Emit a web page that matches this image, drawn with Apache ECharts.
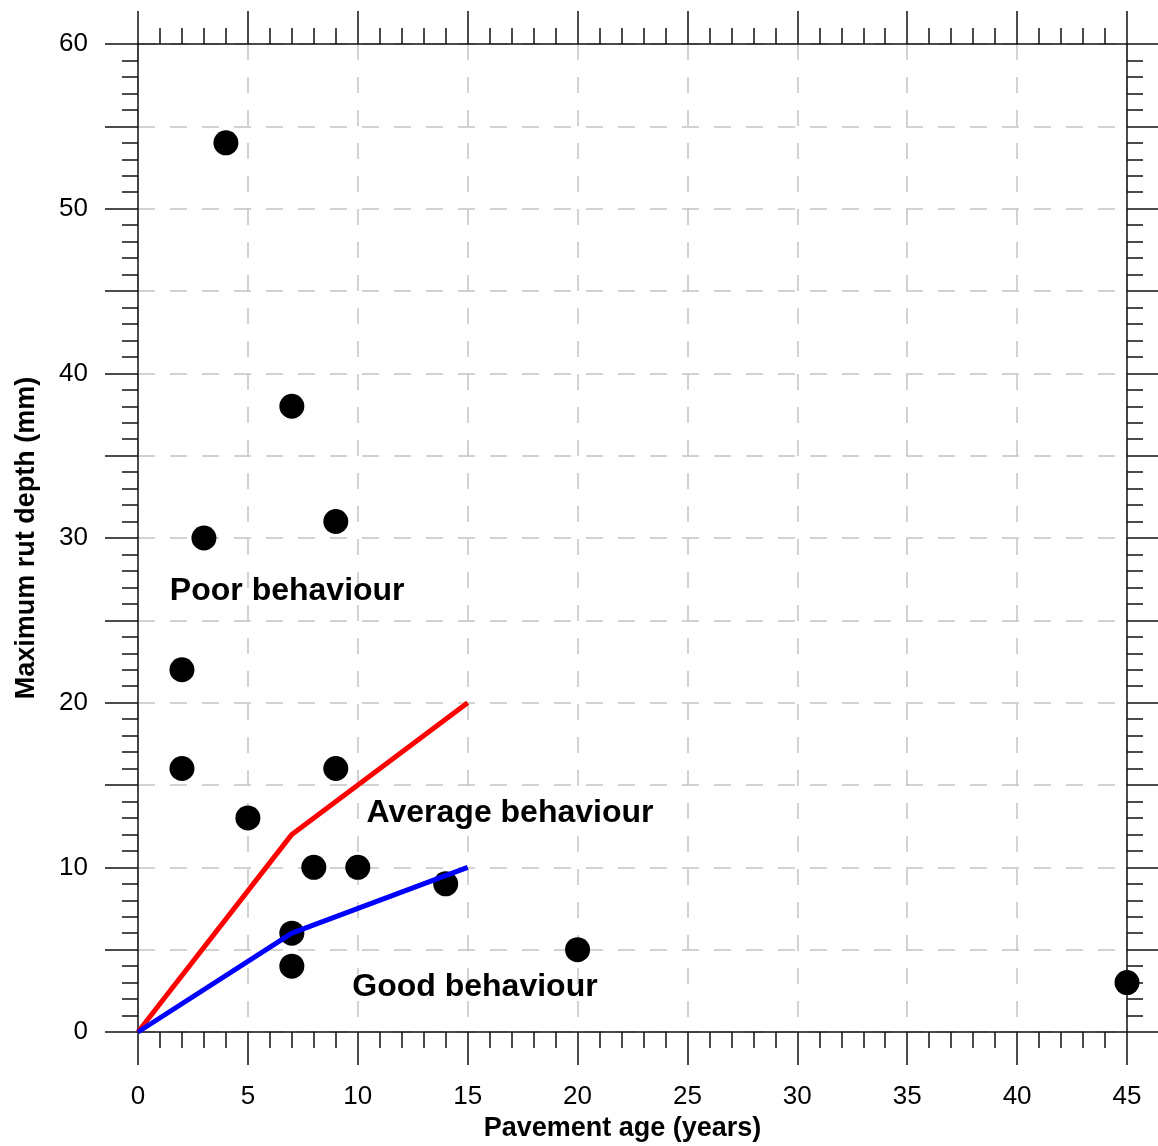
<!DOCTYPE html>
<html>
<head>
<meta charset="utf-8">
<script src="https://cdn.jsdelivr.net/npm/echarts@6/dist/echarts.min.js"></script>
<style>
  html, body { margin: 0; padding: 0; background: #fff; }
  #chart { width: 1158px; height: 1146px; }
</style>
</head>
<body>
<div id="chart"></div>
<script>
// measured points: pavement age (years) vs max rut depth (mm)
const ageYears = [4, 7, 3, 9, 2, 2, 9, 5, 8, 10, 14, 7, 7, 20, 45];
const rutDepth = [54, 38, 30, 31, 22, 16, 16, 13, 10, 10, 9, 6, 4, 5, 3];

// boundary lines between behaviour classes
const boundaryAge = [0, 7, 15];
const poorLimit = [0, 12, 20];
const goodLimit = [0, 6, 10];

// zone labels (anchor = left edge, vertical middle)
const zoneNames = ['Poor behaviour', 'Average behaviour', 'Good behaviour'];
const zoneAge = [1.45, 10.4, 9.75];
const zoneDepth = [26.8, 13.3, 2.7];

const FONT = 'Arial, "Liberation Sans", sans-serif';
const axisCol = '#111';

function baseAxis(extra) {
  return Object.assign({
    type: 'value',
    interval: 5,
    axisLine: { show: true, onZero: false, lineStyle: { color: axisCol, width: 1.5 } },
    axisTick: { show: true, inside: false, length: 33, lineStyle: { color: axisCol, width: 1.5 } },
    minorTick: { show: true, splitNumber: 5, length: 16, lineStyle: { color: axisCol, width: 1.5 } },
    minorSplitLine: { show: false },
    splitLine: { show: false },
    axisLabel: { show: false }
  }, extra);
}

const chart = echarts.init(document.getElementById('chart'));

const option = {
  backgroundColor: '#fff',
  animation: false,
  grid: { left: 138, right: 31, top: 44, bottom: 114, containLabel: false, outerBoundsMode: 'none' },
  xAxis: [
    baseAxis({
      position: 'bottom', min: 0, max: 45,
      name: 'Pavement age (years)', nameLocation: 'middle', nameGap: 83,
      nameTextStyle: { fontFamily: FONT, fontSize: 27, fontWeight: 'bold', color: '#000', padding: [0, 20, 0, 0] },
      axisLabel: { show: true, margin: 52, fontFamily: FONT, fontSize: 26, color: '#000' },
      splitLine: { show: true, lineStyle: { color: '#c4c4c4', width: 1.5, type: [16, 17] } }
    }),
    baseAxis({ position: 'top', min: 0, max: 45 })
  ],
  yAxis: [
    baseAxis({
      position: 'left', min: 0, max: 60,
      name: 'Maximum rut depth (mm)', nameLocation: 'middle', nameGap: 98, nameRotate: 90,
      nameTextStyle: { fontFamily: FONT, fontSize: 27, fontWeight: 'bold', color: '#000' },
      axisLabel: {
        show: true, margin: 50, fontFamily: FONT, fontSize: 26, color: '#000',
        formatter: v => (v % 10 === 0 ? String(v) : '')
      },
      splitLine: { show: true, lineStyle: { color: '#c4c4c4', width: 1.5, type: [17, 15] } }
    }),
    baseAxis({ position: 'right', min: 0, max: 60 })
  ],
  series: [
    {
      type: 'scatter',
      symbol: 'circle',
      symbolSize: 25,
      itemStyle: { color: '#000', opacity: 1 },
      data: ageYears.map((a, i) => [a, rutDepth[i]]),
      z: 3
    },
    {
      type: 'line',
      symbol: 'none',
      lineStyle: { color: '#ff0000', width: 5 },
      data: boundaryAge.map((a, i) => [a, poorLimit[i]]),
      z: 4
    },
    {
      type: 'line',
      symbol: 'none',
      lineStyle: { color: '#0000ff', width: 5 },
      data: boundaryAge.map((a, i) => [a, goodLimit[i]]),
      z: 4
    },
    {
      type: 'scatter',
      symbolSize: 0,
      silent: true,
      itemStyle: { opacity: 1, color: '#000' },
      label: {
        show: true, position: 'right', distance: 0,
        fontFamily: FONT, fontSize: 32, fontWeight: 'bold', color: '#000',
        formatter: p => zoneNames[p.dataIndex]
      },
      data: zoneAge.map((a, i) => [a, zoneDepth[i]]),
      z: 5
    }
  ]
};

chart.setOption(option);
</script>
</body>
</html>
